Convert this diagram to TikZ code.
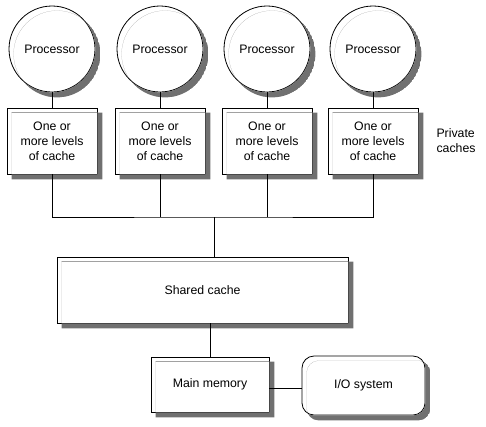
\documentclass[tikz,border=0pt]{standalone}
\usepackage{fontspec}
\setmainfont{Liberation Sans}
\definecolor{shadowgray}{RGB}{112,112,112}
\tikzset{
    shadowed/.style={draw=black, line width=0.8pt, fill=white},
    shadowfill/.style={fill=shadowgray, draw=none, even odd rule},
    proc/.style={shadowed, circle, minimum size=86pt, inner sep=0pt},
    cache/.style={shadowed, rectangle, minimum width=90pt, minimum height=66pt, align=center, inner sep=0pt},
    link/.style={draw=black, line width=0.8pt},
}
% grey shadow peeking out right and below a box
\newcommand{\boxshadow}[2][0pt]{%
    \begin{scope}
        \clip[rounded corners=#1] ([xshift=5pt, yshift=-5pt]#2.south west) rectangle ([xshift=5pt, yshift=-5pt]#2.north east);
        \fill[shadowfill, rounded corners=#1] ([xshift=5pt, yshift=-5pt]#2.south west) rectangle ([xshift=5pt, yshift=-5pt]#2.north east)
            (#2.south west) rectangle (#2.north east);
    \end{scope}}
% same for a round node
\newcommand{\roundshadow}[1]{%
    \begin{scope}
        \clip ([xshift=5pt, yshift=-5pt]#1.center) circle (43.4);
        \fill[shadowfill] ([xshift=5pt, yshift=-5pt]#1.center) circle (43.4) (#1.center) circle (43.4);
    \end{scope}}

\begin{document}
\begin{tikzpicture}[x=1pt, y=-1pt, font=\fontsize{12.3}{15}\selectfont]

    \useasboundingbox (0,0) rectangle (486,426);

    % processors
    \node[proc] (p1) at (52, 49)  {Processor};
    \node[proc] (p2) at (160, 49) {Processor};
    \node[proc] (p3) at (267, 49) {Processor};
    \node[proc] (p4) at (373, 49) {Processor};

    % private caches
    \node[cache] (c1) at (52, 141)  {One or\\more levels\\of cache};
    \node[cache] (c2) at (160, 141) {One or\\more levels\\of cache};
    \node[cache] (c3) at (267, 141) {One or\\more levels\\of cache};
    \node[cache] (c4) at (373, 141) {One or\\more levels\\of cache};
    \node[align=left, anchor=west] (priv) at (433, 141) {Private\\caches};

    % shared levels
    \node[shadowed, minimum width=291pt, minimum height=66pt] (shared) at (202.5, 290) {Shared cache};
    \node[shadowed, minimum width=118pt, minimum height=55pt] (mem) at (210, 384.5) {Main memory};
    \node[shadowed, rounded corners=12pt, minimum width=123pt, minimum height=59pt] (io) at (363.5, 385.5) {I/O system};

    % shadows
    \roundshadow{p1}
    \roundshadow{p2}
    \roundshadow{p3}
    \roundshadow{p4}
    \boxshadow{c1}
    \boxshadow{c2}
    \boxshadow{c3}
    \boxshadow{c4}
    \boxshadow{shared}
    \boxshadow{mem}
    \boxshadow[12pt]{io}

    \draw[link] (p1) -- (c1);
    \draw[link] (p2) -- (c2);
    \draw[link] (p3) -- (c3);
    \draw[link] (p4) -- (c4);

    \coordinate (bus) at (214, 217);
    \draw[link] (c1.south) |- (bus) -| (c4.south);
    \draw[link] (c2.south) -- (c2.south |- bus);
    \draw[link] (c3.south) -- (c3.south |- bus);
    \draw[link] (bus) -- (bus |- shared.north);

    \draw[link] (mem.north) -- (mem.north |- shared.south);
    \draw[link] ([yshift=-4pt]mem.east) -- ([yshift=-4pt]mem.east -| io.west);

\end{tikzpicture}
\end{document}
